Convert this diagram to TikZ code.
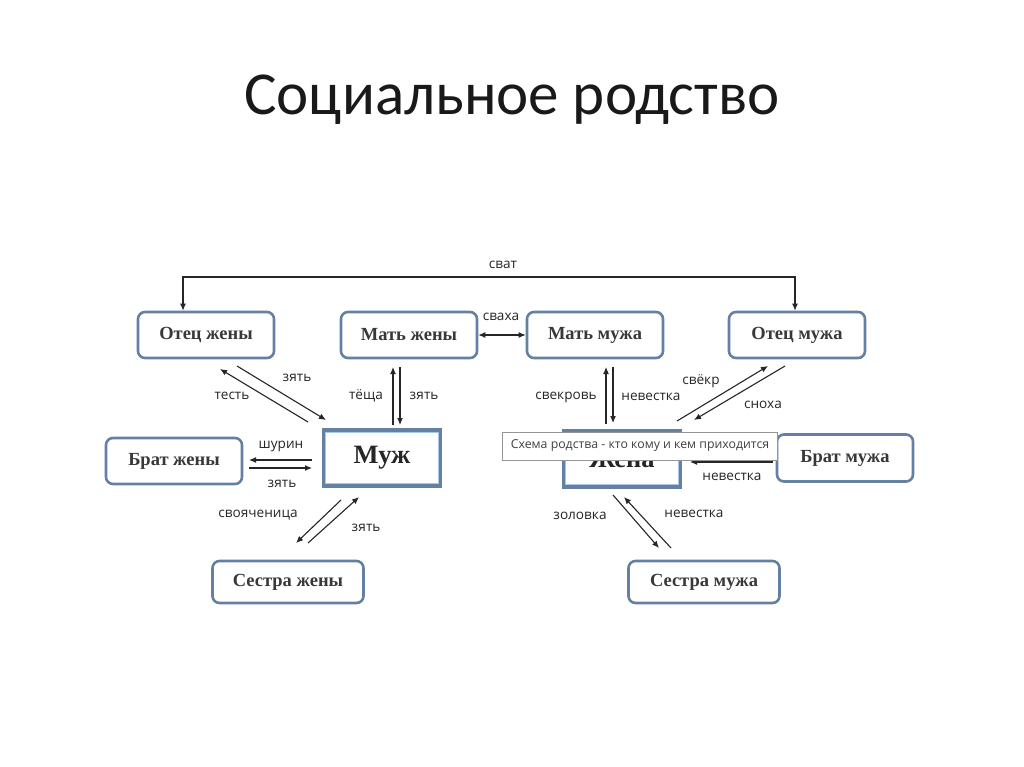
\documentclass[tikz,border=0pt]{standalone}
\usepackage{fontspec}
\setmainfont{Liberation Serif}
\newfontfamily\titlefont{Carlito}
\newfontfamily\labfont{Open Sans}
\usetikzlibrary{arrows.meta}
\definecolor{bord}{RGB}{100,128,162}
\definecolor{inner}{RGB}{170,200,230}
\definecolor{tipgray}{RGB}{150,150,150}
\begin{document}
\begin{tikzpicture}[x=1pt,y=-1pt,
  box/.style={draw=bord, line width=2.6pt, rounded corners=7pt, fill=white,
    minimum width=136pt, minimum height=46pt, inner sep=0pt,
    font=\bfseries\fontsize{18.5}{20}\selectfont, text=black!78},
  smallbox/.style={box, minimum width=151pt, minimum height=42pt},
  mainbox/.style={draw=bord, line width=3.4pt, fill=white, minimum width=117pt,
    minimum height=56pt, inner sep=0pt, font=\bfseries\fontsize{26.5}{28}\selectfont, text=black!85},
  lab/.style={font=\labfont\fontsize{13.6}{15}\selectfont, text=black!85, inner sep=0pt},
  arr/.style={-{Latex[length=7pt,width=6pt]}, line width=1.1pt, black!85},
  darr/.style={{Latex[length=7pt,width=6pt]}-{Latex[length=7pt,width=6pt]}, line width=1.1pt, black!85}]
\useasboundingbox (0,0) rectangle (1024,767);
\fill[white] (0,0) rectangle (1024,767);

% title
\node[font=\titlefont\fontsize{61}{66}\selectfont, text=black!90] (title) at (512,100) {Социальное родство};

% boxes
\node[box] (oz) at (206,335) {Отец жены};
\node[box] (mz) at (409,335) {Мать жены};
\node[box] (mm) at (595,335) {Мать мужа};
\node[box] (om) at (797,335) {Отец мужа};
\node[box] (bz) at (174,461) {Брат жены};
\node[box, minimum height=47pt] (bm) at (845,458) {Брат мужа};
\node[smallbox] (sz) at (288,582) {Сестра жены};
\node[smallbox] (sm) at (704,582) {Сестра мужа};
\node[mainbox] (muzh) at (382,458) {Муж};
\node[mainbox] (zhena) at (622,459) {};
\begin{scope}
\clip (565,461) rectangle (680,486);
\node[font=\bfseries\fontsize{26.5}{28}\selectfont, text=black!85, inner sep=0pt] (zhenatxt) at (zhena.center) {Жена};
\end{scope}
\draw[inner, line width=0.8pt] ([shift={(4,-4)}]muzh.south west) rectangle ([shift={(-4,4)}]muzh.north east);
\draw[inner, line width=0.8pt] ([shift={(4,-4)}]zhena.south west) rectangle ([shift={(-4,4)}]zhena.north east);

% сват
\coordinate (s1) at (183,277);
\coordinate (s2) at (795,277);
\draw[darr] (oz.north -| s1) -- (s1) -- (s2) -- (om.north -| s2);
\node[lab] (lsvat) at (503,265) {сват};

% сваха
\draw[darr] (mz.east) -- (mm.west);
\node[lab] (lsvaha) at (501,317) {сваха};

% Отец жены - Муж
\coordinate (a1) at (308,422); \coordinate (a2) at (220,369);
\coordinate (a3) at (237,366); \coordinate (a4) at (326,420);
\draw[arr] (a1) -- (a2);
\draw[arr] (a3) -- (a4);
\node[lab] (ltest) at (232,396) {тесть};
\node[lab] (lz1) at (297,378) {зять};

% Мать жены - Муж
\coordinate (b1) at (393,425); \coordinate (b2) at (393,367);
\coordinate (b3) at (400,367); \coordinate (b4) at (400,425);
\draw[arr] (b1) -- (b2);
\draw[arr] (b3) -- (b4);
\node[lab] (lteshcha) at (366,396) {тёща};
\node[lab] (lz2) at (424,396) {зять};

% Брат жены - Муж
\coordinate (c1) at (312,460); \coordinate (c2) at (249,460);
\coordinate (c3) at (249,468); \coordinate (c4) at (312,468);
\draw[arr] (c1) -- (c2);
\draw[arr] (c3) -- (c4);
\node[lab] (lshurin) at (281,446) {шурин};
\node[lab] (lz3) at (282,484) {зять};

% Муж - Сестра жены
\coordinate (d1) at (341,500); \coordinate (d2) at (296,543);
\coordinate (d3) at (308,543); \coordinate (d4) at (359,497);
\draw[arr] (d1) -- (d2);
\draw[arr] (d3) -- (d4);
\node[lab] (lsvoyach) at (258,515) {свояченица};
\node[lab] (lz4) at (366,528) {зять};

% Мать мужа - Жена
\coordinate (e1) at (606,424); \coordinate (e2) at (606,367);
\coordinate (e3) at (613,367); \coordinate (e4) at (613,423);
\draw[arr] (e1) -- (e2);
\draw[arr] (e3) -- (e4);
\node[lab] (lsvekrov) at (566,397) {свекровь};
\node[lab] (lnev1) at (651,397) {невестка};

% Отец мужа - Жена
\coordinate (f1) at (677,421); \coordinate (f2) at (768,366);
\coordinate (f3) at (785,366); \coordinate (f4) at (694,420);
\draw[arr] (f1) -- (f2);
\draw[arr] (f3) -- (f4);
\node[lab] (lsvekr) at (701,381) {свёкр};
\node[lab] (lsnoha) at (763,405) {сноха};

% Брат мужа - Жена
\coordinate (g1) at (690,452); \coordinate (g2) at (773,452);
\coordinate (g3) at (773,462); \coordinate (g4) at (690,462);
\draw[arr] (g1) -- (g2);
\draw[arr] (g3) -- (g4);
\node[lab] (lnev2) at (732,477) {невестка};

% Жена - Сестра мужа
\coordinate (h1) at (613,495); \coordinate (h2) at (659,548);
\coordinate (h3) at (671,548); \coordinate (h4) at (624,497);
\draw[arr] (h1) -- (h2);
\draw[arr] (h3) -- (h4);
\node[lab] (lzolovka) at (580,516) {золовка};
\node[lab] (lnev3) at (694,514) {невестка};

% tooltip
\node[draw=tipgray, line width=0.7pt, fill=white, minimum width=275pt, minimum height=28pt,
  inner sep=0pt, font=\labfont\fontsize{12.3}{14}\selectfont, text=black!75] (tip) at (640,446)
  {Схема родства - кто кому и кем приходится};
\end{tikzpicture}
\end{document}
